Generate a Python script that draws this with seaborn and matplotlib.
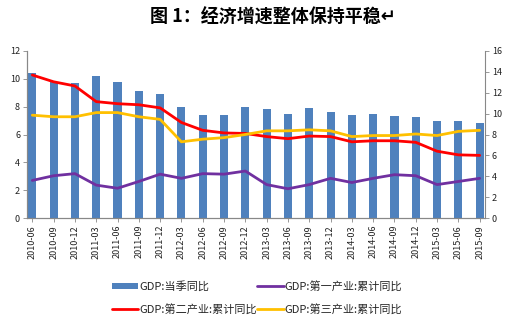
import numpy as np
import pandas as pd
import matplotlib
matplotlib.use("Agg")
import matplotlib.pyplot as plt
import seaborn as sns
from matplotlib.patches import Patch
from matplotlib.lines import Line2D

dates = ["2010-06", "2010-09", "2010-12", "2011-03", "2011-06", "2011-09", "2011-12",
         "2012-03", "2012-06", "2012-09", "2012-12", "2013-03", "2013-06", "2013-09",
         "2013-12", "2014-03", "2014-06", "2014-09", "2014-12", "2015-03", "2015-06",
         "2015-09"]
gdp_quarter = [10.4, 9.8, 9.7, 10.2, 9.75, 9.1, 8.9, 7.95, 7.4, 7.4, 7.95, 7.8, 7.5,
               7.9, 7.6, 7.4, 7.5, 7.3, 7.25, 7.0, 7.0, 6.85]
primary = [3.6, 4.05, 4.25, 3.15, 2.85, 3.5, 4.2, 3.8, 4.25, 4.2, 4.5, 3.2, 2.8, 3.2,
           3.8, 3.4, 3.8, 4.15, 4.05, 3.2, 3.5, 3.8]
secondary = [13.7, 13.05, 12.65, 11.15, 10.95, 10.85, 10.55, 9.15, 8.4, 8.15, 8.1,
             7.8, 7.6, 7.85, 7.8, 7.3, 7.4, 7.4, 7.25, 6.4, 6.05, 6.0]
tertiary = [9.85, 9.7, 9.7, 10.1, 10.1, 9.7, 9.45, 7.3, 7.55, 7.7, 8.0, 8.35, 8.35,
            8.45, 8.35, 7.8, 7.9, 7.9, 8.05, 7.9, 8.3, 8.4]

labels = ["GDP:当季同比", "GDP:第一产业:累计同比", "GDP:第二产业:累计同比", "GDP:第三产业:累计同比"]
c_bar, c_pri, c_sec, c_ter = "#4F81BD", "#7030A0", "#FF0000", "#FFC000"

sns.set_theme(style="white")
plt.rcParams['font.family'] = ['Noto Sans CJK SC', 'DejaVu Sans']

df = pd.DataFrame({"date": dates, "gdp": gdp_quarter, "pos": np.arange(len(dates)),
                   "pri": primary, "sec": secondary, "ter": tertiary})

fig = plt.figure(figsize=(5.11, 3.26), dpi=100)
ax = fig.add_axes([27 / 511, 1 - 218 / 326, (485 - 27) / 511, (218 - 51) / 326])
sns.barplot(data=df, x="date", y="gdp", color=c_bar, width=0.38, saturation=1,
            ax=ax, edgecolor="none")
ax.set_ylim(0, 12)
ax.set_yticks(range(0, 13, 2))
ax.set_xlim(-0.25, len(dates) - 0.75)

ax2 = ax.twinx()
for col, c in [("pri", c_pri), ("sec", c_sec), ("ter", c_ter)]:
    sns.lineplot(data=df, x="pos", y=col, color=c, linewidth=2.0, ax=ax2, sort=False)
ax2.set_ylim(0, 16)
ax2.set_yticks(range(0, 17, 2))
ax2.set_xlim(-0.25, len(dates) - 0.75)

for a in (ax, ax2):
    a.set_xlabel("")
    a.set_ylabel("")
    a.grid(False)
    for s in a.spines.values():
        s.set_color("#888888")
        s.set_linewidth(0.8)
    a.spines["top"].set_visible(False)
    a.tick_params(axis="y", labelsize=6.5, colors="#222222", length=3, width=0.6,
                  color="#888888", pad=2)
ax.spines["right"].set_visible(False)
ax.tick_params(axis="y", left=True, direction="out")
ax2.tick_params(axis="y", right=True, direction="out")
ax.set_xticks(range(len(dates)))
ax.set_xticklabels(dates, rotation=90, fontsize=6.5, color="#222222", family=['Noto Sans CJK SC', 'DejaVu Sans'])
ax.tick_params(axis="x", bottom=True, length=3, width=0.6, color="#888888", pad=2)

fig.text(273 / 511, 1 - 17 / 326, "图 1：经济增速整体保持平稳↵", ha="center", va="center",
         fontsize=13, fontweight="bold", color="black",
         family=['Noto Sans CJK SC', 'DejaVu Sans'])

handles = [Patch(facecolor=c_bar, edgecolor="none"),
           Line2D([], [], color=c_sec, lw=2),
           Line2D([], [], color=c_pri, lw=2),
           Line2D([], [], color=c_ter, lw=2)]
hl = [labels[0], labels[2], labels[1], labels[3]]
fig.legend(handles, hl, ncol=2, loc="center", bbox_to_anchor=(257 / 511, 1 - 298 / 326),
           frameon=False, fontsize=8, handlelength=2.4, handleheight=0.5,
           handletextpad=0.1, columnspacing=0.0, labelspacing=1.1, borderaxespad=0)

fig.savefig("out.png", dpi=100)
